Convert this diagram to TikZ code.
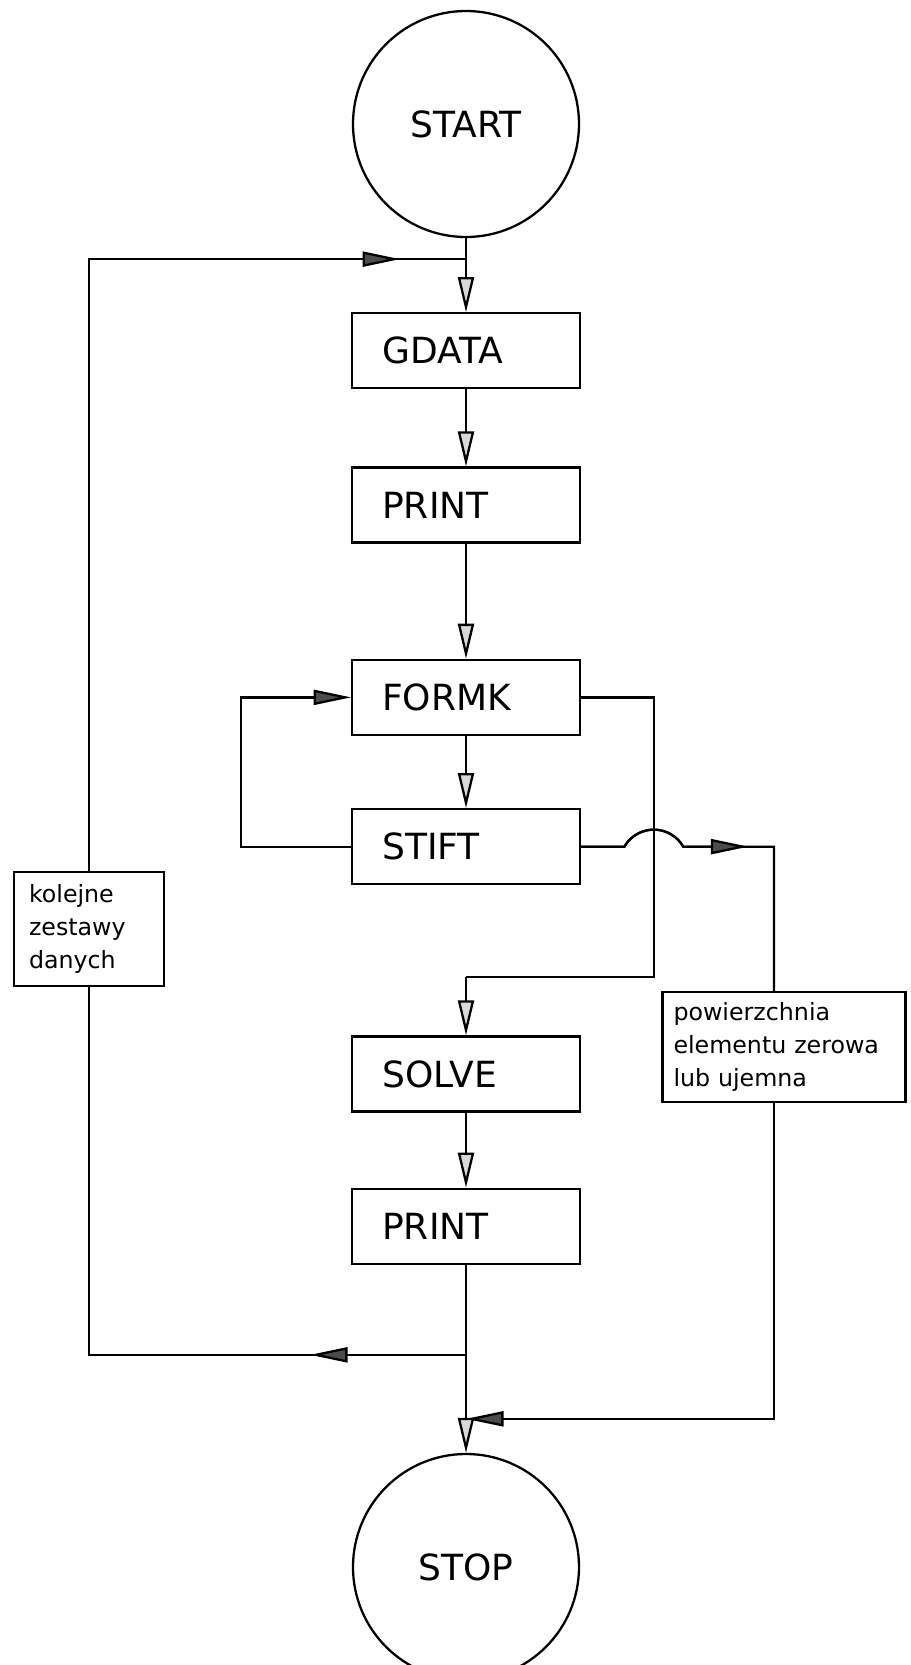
\documentclass[tikz,border=0pt]{standalone}
\usepackage{fontspec}
\setmainfont{DejaVu Sans}
\usepackage{tikz}
\usetikzlibrary{positioning,arrows.meta}
\tikzset{
    flowterm/.style={draw, circle, line width=1.3pt, minimum size=4.52cm, inner sep=0pt, font=\fontsize{20.5}{24}\selectfont},
    flowbox/.style={draw, rectangle, line width=1.3pt, align=left, text width=3.35cm, inner xsep=0.6cm, minimum height=1.5cm, font=\fontsize{20.5}{24}\selectfont},
    flownote/.style={draw, rectangle, line width=1.3pt, align=left, inner xsep=0.3cm, font=\fontsize{13.5}{19}\selectfont},
    flowline/.style={draw, line width=1.3pt},
    flowarrow/.style={draw, line width=1.3pt, -{Triangle[length=7mm, width=3.2mm, fill=gray!30]}},
    flowside/.style={draw, line width=1.3pt, -{Triangle[length=7.5mm, width=3mm, fill=black!70]}}
}

\begin{document}
\begin{tikzpicture}
    \useasboundingbox (0,0) rectangle (18.22,-33.3);
    \node[flowterm] (start) at (9.32,-2.48) {START};
    \node[flowbox, below=1.48cm of start] (gdata) {GDATA};
    \node[flowbox, below=1.54cm of gdata] (print) {PRINT};
    \node[flowbox, below=2.3cm of print] (formk) {FORMK};
    \node[flowbox, below=1.44cm of formk] (stift) {STIFT};
    \node[flowbox, below=3.0cm of stift] (solve) {SOLVE};
    \node[flowbox, below=1.5cm of solve] (printout) {PRINT};
    \node[flowterm, below=3.76cm of printout] (stop) {STOP};
    \node[flownote, text width=2.4cm, minimum height=2.28cm] (nextset) at (1.78,-18.58) {kolejne\\zestawy\\danych};
    \node[flownote, text width=4.42cm, inner xsep=0.22cm, minimum height=2.2cm] (badarea) at (15.68,-20.94) {powierzchnia\\elementu zerowa\\lub ujemna};

    % junctions on the lines
    \coordinate[below=0.42cm of start] (topjoin);
    \coordinate[left=1.32cm of topjoin] (toptip);
    \coordinate[right=1.46cm of formk] (railtop);
    \coordinate (jumpmid) at (railtop |- stift.east);
    \coordinate[left=0.59cm of jumpmid] (jumpleft);
    \coordinate[right=1.89cm of jumpmid] (badtip);
    \coordinate[above=1.16cm of solve] (solvejoin);
    \coordinate[below=1.8cm of printout] (loopjoin);
    \coordinate[left=3.12cm of loopjoin] (looptip);
    \coordinate[below=3.08cm of printout] (badjoin);

    \draw[flowarrow] (start) -- (gdata);
    \draw[flowarrow] (gdata) -- (print);
    \draw[flowarrow] (print) -- (formk);
    \draw[flowarrow] (formk) -- (stift);
    \draw[flowside] (stift.west) -- ++(-2.2,0) |- (formk.west);
    \draw[flowline] (formk.east) -- (railtop) |- (solvejoin);
    \draw[flowarrow] (solvejoin) -- (solve);
    \draw[flowline] (stift.east) -- (jumpleft) arc[start angle=150, end angle=30, radius=0.68cm] -| ([xshift=-0.2cm]badarea.north);
    \draw[flowside] (stift.east) -- (jumpleft) arc[start angle=150, end angle=30, radius=0.68cm] -- (badtip);
    \draw[flowarrow] (solve) -- (printout);
    \draw[flowarrow] (printout) -- (stop);
    \draw[flowline] (loopjoin) -| (nextset.south);
    \draw[flowside] (loopjoin) -- (looptip);
    \draw[flowline] (nextset.north) |- (topjoin);
    \draw[flowside] (nextset.north) |- (toptip);
    \draw[flowside] ([xshift=-0.2cm]badarea.south) |- (badjoin);
\end{tikzpicture}
\end{document}
